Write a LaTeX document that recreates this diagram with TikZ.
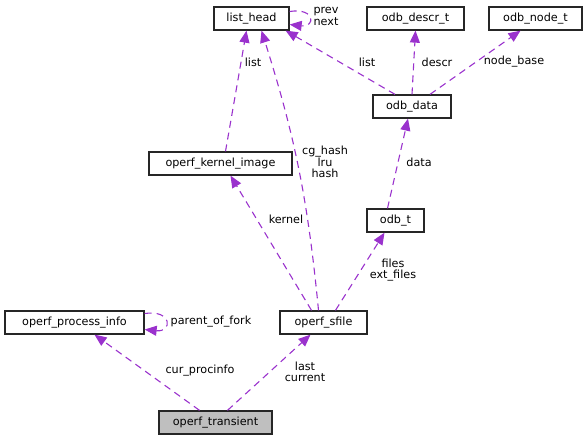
\documentclass[tikz,border=0pt]{standalone}
\usepackage{fontspec}
\setmainfont{DejaVu Sans}
\usetikzlibrary{arrows.meta}
\definecolor{edgecol}{HTML}{9A32CD}
\tikzset{
  classbox/.style={draw=black!85, line width=1.3pt, fill=white, minimum height=23pt, inner xsep=0pt, font=\fontsize{11.2}{12}\selectfont},
  usage/.style={edgecol, line width=1.1pt, dash pattern=on 7pt off 5pt, -{Triangle[length=12pt,width=10pt]}},
  elabel/.style={font=\fontsize{11.2}{11.5}\selectfont, align=center, inner sep=0pt}
}
\begin{document}
\begin{tikzpicture}[x=1pt,y=-1pt]
                \useasboundingbox (0,0) rectangle (588,443);
                % classes
                \node[classbox, minimum width=75pt] (lh) at (251.5,18.5) {list\_head};
                \node[classbox, minimum width=97pt] (ds) at (415.5,18.5) {odb\_descr\_t};
                \node[classbox, minimum width=93pt] (nt) at (535.5,18.5) {odb\_node\_t};
                \node[classbox, minimum width=78pt] (od) at (412,106.5) {odb\_data};
                \node[classbox, minimum width=143pt] (ki) at (220.5,163.5) {operf\_kernel\_image};
                \node[classbox, minimum width=57pt] (ot) at (395.5,220.5) {odb\_t};
                \node[classbox, minimum width=139pt] (pi) at (74.5,322.5) {operf\_process\_info};
                \node[classbox, minimum width=87pt] (sf) at (323.5,322.5) {operf\_sfile};
                \node[classbox, minimum width=113pt, fill=black!25] (tr) at (215.5,422.5) {operf\_transient};
                % self references
                \draw[usage] ([yshift=7]lh.east) .. controls +(26,-4) and +(26,3) .. ([yshift=-6]lh.east);
                \node[elabel] (lhlbl) at (326,16.5) {prev\\next};
                \draw[usage] ([yshift=9]pi.east) .. controls +(28,-4) and +(28,3) .. ([yshift=-7]pi.east);
                \node[elabel] (pilbl) at (211,322) {parent\_of\_fork};
                % members
                \draw[usage] ([xshift=5]ki.north) -- ([xshift=-5]lh.south);
                \node[elabel] (l1) at (253,62) {list};
                \draw[usage] ([xshift=-17]od.north) -- ([xshift=-4]lh.south east);
                \node[elabel] (l2) at (367,62) {list};
                \draw[usage] (od.north) -- (ds.south);
                \node[elabel] (l3) at (437,62) {descr};
                \draw[usage] ([xshift=18]od.north) -- ([xshift=-15]nt.south);
                \node[elabel] (l4) at (514,62) {node\_base};
                \draw[usage] ([xshift=-8]ot.north) -- ([xshift=-4]od.south);
                \node[elabel] (l5) at (419,162) {data};
                \draw[usage] ([xshift=-5]sf.north) to[bend right=6] ([xshift=10]lh.south);
                \node[elabel] (l6) at (325,162) {cg\_hash\\lru\\hash};
                \draw[usage] ([xshift=-12]sf.north) -- ([xshift=10]ki.south);
                \node[elabel] (l7) at (286,219) {kernel};
                \draw[usage] ([xshift=12]sf.north) -- ([xshift=-11]ot.south);
                \node[elabel] (l8) at (393,270) {files\\ext\_files};
                \draw[usage] ([xshift=-16]tr.north) -- ([xshift=20]pi.south);
                \node[elabel] (l9) at (200,371) {cur\_procinfo};
                \draw[usage] ([xshift=12]tr.north) -- ([xshift=-13]sf.south);
                \node[elabel] (l10) at (305,372) {last\\current};
            \end{tikzpicture}
\end{document}
